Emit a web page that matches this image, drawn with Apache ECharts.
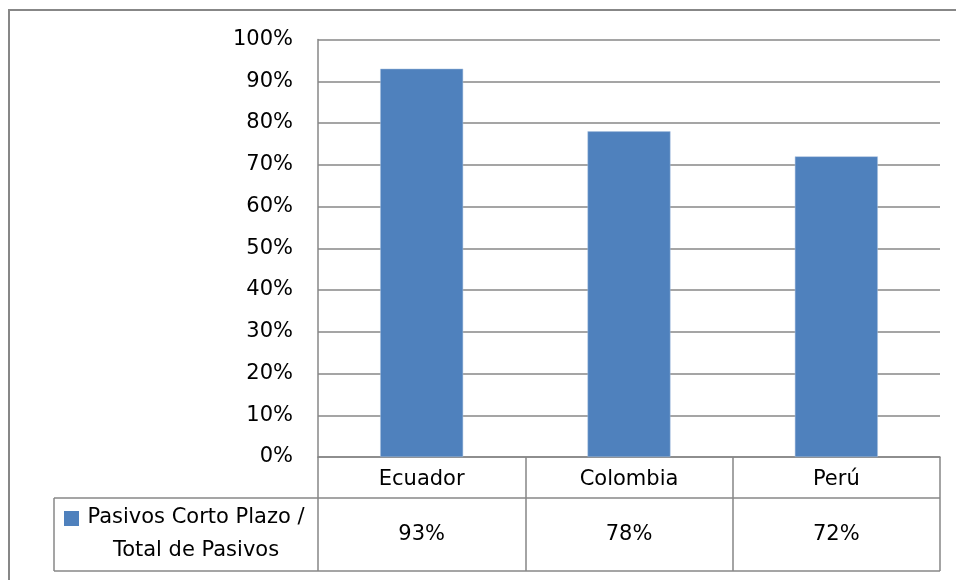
<!DOCTYPE html>
<html>
<head>
<meta charset="utf-8">
<script src="https://cdn.jsdelivr.net/npm/echarts@6/dist/echarts.min.js"></script>
<style>
  html, body { margin: 0; padding: 0; background: #fff; }
  #chart { width: 956px; height: 580px; }
</style>
</head>
<body>
<div id="chart"></div>
<script>
// Short-term liabilities as a share of total liabilities, by country
const categories = ['Ecuador', 'Colombia', 'Perú'];
const seriesName = 'Pasivos Corto Plazo / Total de Pasivos';
const values = [0.93, 0.78, 0.72];

const FONT = 'DejaVu Sans';
const FS = 21;
const LINE = '#878787';
const BAR = '#4F81BD';

const chart = echarts.init(document.getElementById('chart'), null, { renderer: 'canvas' });

const pct = v => Math.round(v * 100) + '%';

chart.setOption({
  animation: false,
  backgroundColor: '#fff',
  textStyle: { fontFamily: FONT },
  grid: { left: 318, right: 16, top: 39.5, bottom: 123, containLabel: false },
  xAxis: {
    type: 'category',
    data: categories,
    axisLine: { show: true, lineStyle: { color: LINE, width: 1.5 } },
    axisTick: { show: true, alignWithLabel: false, length: 114, lineStyle: { color: LINE, width: 1.5 } },
    axisLabel: { color: '#000', fontSize: FS, fontFamily: FONT, margin: 12 },
    splitLine: { show: false }
  },
  yAxis: {
    type: 'value',
    min: 0,
    max: 1,
    interval: 0.1,
    axisLine: { show: true, lineStyle: { color: LINE, width: 1.5 } },
    axisTick: { show: false },
    axisLabel: { color: '#000', fontSize: FS, fontFamily: FONT, margin: 25, formatter: pct, padding: [3, 0, 0, 0] },
    splitLine: { show: true, lineStyle: { color: LINE, width: 1.5 } }
  },
  series: [{
    name: seriesName,
    type: 'bar',
    data: values,
    barWidth: '40%',
    itemStyle: { color: BAR, borderColor: '#a9c0de', borderWidth: 0.5 }
  }]
});

// Data table below the plot: legend key + value row
function drawTable() {
  const y0 = chart.convertToPixel({ yAxisIndex: 0 }, 0);
  const grid = chart.getModel().getComponent('grid').coordinateSystem.getRect();
  const tableLeft = 54;
  const rowMid = y0 + 41;
  const tableBottom = y0 + 114;
  const right = grid.x + grid.width;

  const lineStyle = { stroke: LINE, lineWidth: 1.5 };
  const g = [];

  g.push({ type: 'line', shape: { x1: tableLeft, y1: rowMid, x2: right, y2: rowMid }, style: lineStyle, silent: true });
  g.push({ type: 'line', shape: { x1: tableLeft, y1: tableBottom, x2: right, y2: tableBottom }, style: lineStyle, silent: true });
  g.push({ type: 'line', shape: { x1: tableLeft, y1: rowMid, x2: tableLeft, y2: tableBottom }, style: lineStyle, silent: true });

  const valueY = (rowMid + tableBottom) / 2;
  values.forEach((v, i) => {
    const cx = chart.convertToPixel({ xAxisIndex: 0 }, categories[i]);
    g.push({
      type: 'text', x: cx, y: valueY, silent: true,
      style: { text: pct(v), font: FS + 'px "' + FONT + '"', fill: '#000', align: 'center', verticalAlign: 'middle' }
    });
  });

  // legend key
  g.push({ type: 'rect', shape: { x: 64, y: rowMid + 13, width: 15, height: 15 }, style: { fill: BAR }, silent: true });
  g.push({
    type: 'text', x: 196, y: valueY, silent: true,
    style: {
      text: seriesName.replace('/ ', '/\n'),
      font: FS + 'px "' + FONT + '"', fill: '#000', align: 'center', verticalAlign: 'middle', lineHeight: 33
    }
  });

  // chart frame
  g.push({ type: 'rect', shape: { x: 9, y: 10, width: 1000, height: 700 }, style: { fill: 'none', stroke: LINE, lineWidth: 2 }, silent: true, z: 100 });

  chart.setOption({ graphic: g });
}
drawTable();
</script>
</body>
</html>
